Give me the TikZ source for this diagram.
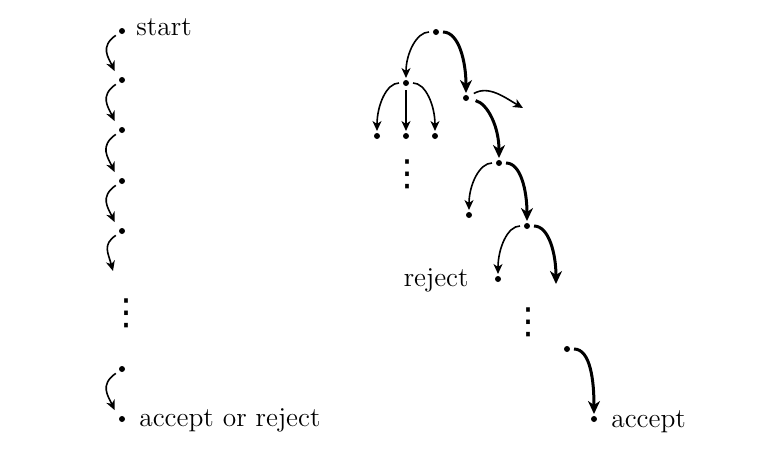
\documentclass[tikz,border=0pt]{standalone}
\usepackage{fontspec}
\newfontfamily\symfont{DejaVu Sans}
\usetikzlibrary{arrows.meta, positioning}

\begin{document}
\begin{tikzpicture}[
    x=0.5pt, y=0.5pt,
    dot/.style={circle, fill=black, inner sep=0pt, minimum size=3pt, outer sep=1pt},
    word/.style={inner sep=0pt, font=\fontsize{13.7}{16}\selectfont},
    more/.style={inner sep=0pt, font=\symfont\fontsize{18}{18}\selectfont},
    arrow/.style={-{Stealth[length=5pt, width=4.5pt, inset=1.5pt]}, line width=0.8pt},
    heavy/.style={-{Stealth[length=6.5pt, width=6pt, inset=2pt]}, line width=1.5pt},
    chain/.style={arrow, shorten <=1.3pt, shorten >=3.5pt, out=215, in=115, looseness=1.3},
    arc/.style={shorten <=1pt, out looseness=0.7, in looseness=1.2}
]
    \useasboundingbox (0,0) rectangle (768,-457);

    % deterministic computation
    \node[dot] (d0) at (122,-31) {};
    \node[dot] (d1) at (122,-80) {};
    \node[dot] (d2) at (122,-130) {};
    \node[dot] (d3) at (122,-181) {};
    \node[dot] (d4) at (122,-231) {};
    \coordinate (d5) at (113,-271);
    \node[more] (dmore) at (126,-313) {⋮};
    \node[dot] (d6) at (122,-369) {};
    \node[dot] (d7) at (122,-419) {};
    \node[word, anchor=base west] (dstart) at (136,-35) {start};
    \node[word, anchor=base west] (dend) at (139,-426) {accept or reject};

    \draw[chain] (d0.215) to (d1.150);
    \draw[chain] (d1.215) to (d2.150);
    \draw[chain] (d2.215) to (d3.150);
    \draw[chain] (d3.215) to (d4.150);
    \draw[chain, shorten >=0pt, in=105] (d4.215) to (d5);
    \draw[chain] (d6.215) to (d7.150);

    % nondeterministic computation
    \node[dot] (root) at (436,-32) {};
    \node[dot] (lft) at (406,-83) {};
    \node[dot] (rgt) at (466,-98) {};
    \node[dot] (lft1) at (377,-136) {};
    \node[dot] (lft2) at (406,-136) {};
    \node[dot] (lft3) at (435,-136) {};
    \node[more] (lmore) at (407,-174) {⋮};
    \coordinate (rout) at (523,-108);
    \node[dot] (br1) at (499,-163) {};
    \node[dot] (dead1) at (469,-215) {};
    \node[dot] (br2) at (527,-226) {};
    \node[dot] (dead2) at (498,-279) {};
    \coordinate (bout) at (556,-284);
    \node[more] (rmore) at (528,-322) {⋮};
    \node[dot] (br3) at (567,-349) {};
    \node[dot] (acc) at (594,-419) {};
    \node[word, anchor=base east] (rej) at (469,-286) {reject};
    \node[word, anchor=base west] (acclbl) at (611,-427) {accept};

    \draw[arrow, arc] (root) to[out=180, in=90] (lft);
    \draw[heavy, arc] (root) to[out=0, in=90] (rgt);
    \draw[arrow, arc] (lft) to[out=180, in=90] (lft1);
    \draw[arrow, shorten <=1pt] (lft) -- (lft2);
    \draw[arrow, arc] (lft) to[out=0, in=90] (lft3);
    \draw[arrow, shorten <=2pt] (rgt) to[out=30, in=150] (rout);
    \draw[heavy, arc, shorten <=2.5pt] (rgt) to[out=-15, in=90] (br1);
    \draw[arrow, arc] (br1) to[out=180, in=90] (dead1);
    \draw[heavy, arc] (br1) to[out=0, in=90] (br2);
    \draw[arrow, arc] (br2) to[out=180, in=90] (dead2);
    \draw[heavy, arc] (br2) to[out=0, in=90] (bout);
    \draw[heavy, arc] (br3) to[out=0, in=90] (acc);
\end{tikzpicture}
\end{document}
